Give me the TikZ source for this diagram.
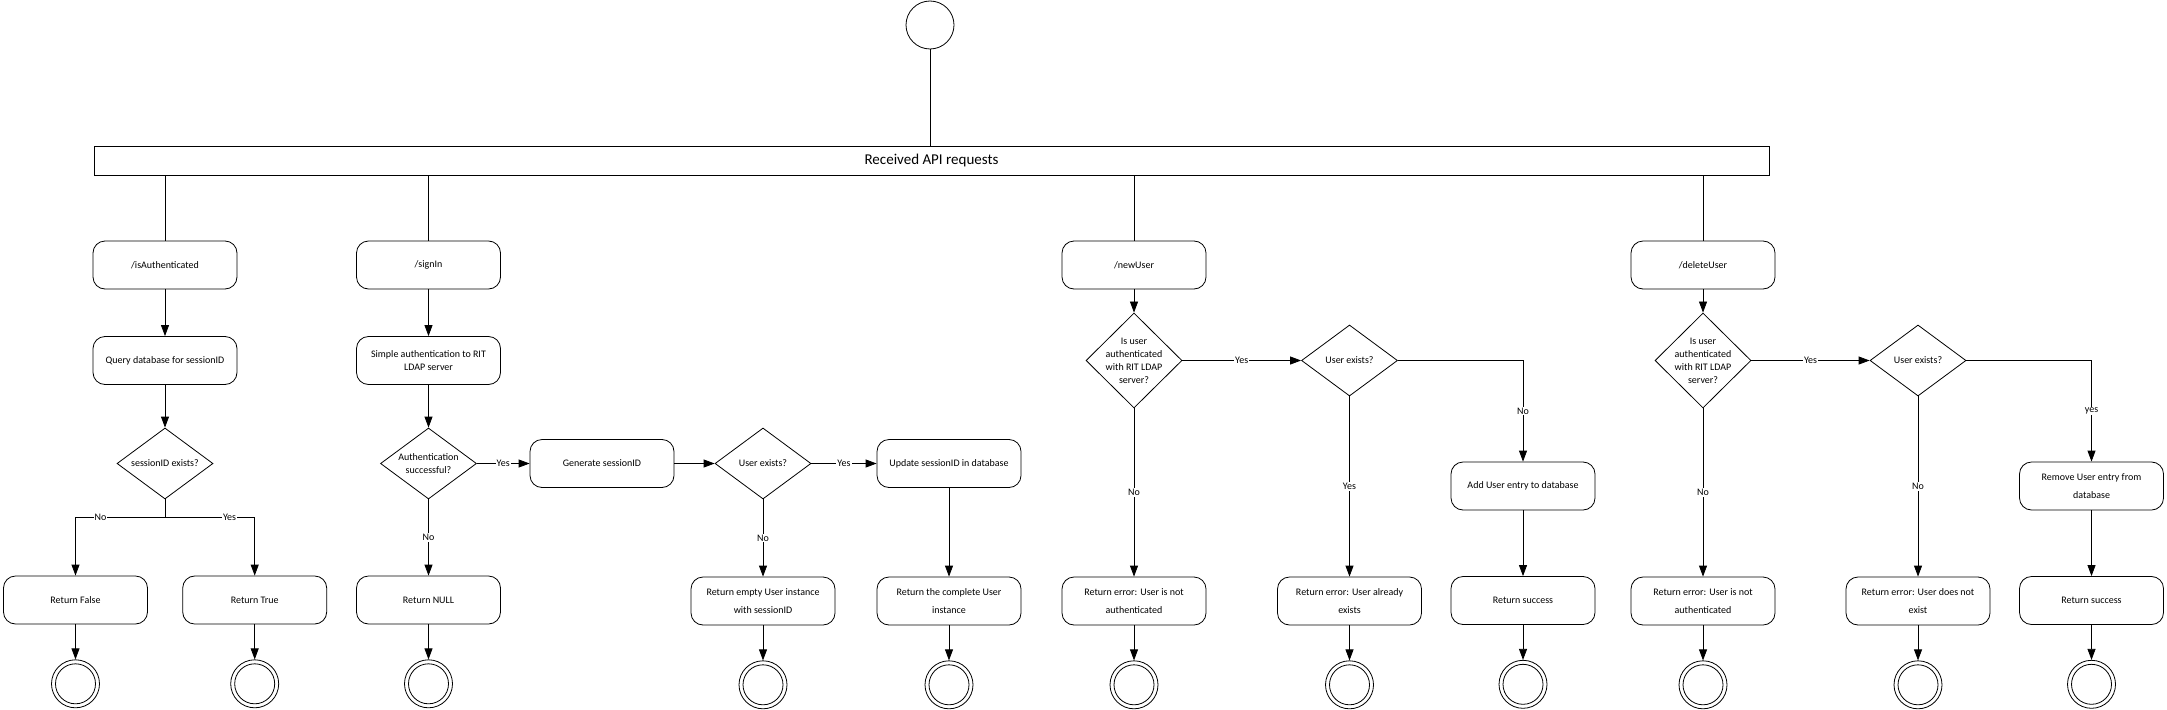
\documentclass[tikz,border=0pt]{standalone}
\usepackage{fontspec}
\setmainfont{Carlito}
\usetikzlibrary{shapes.geometric,arrows.meta,positioning}
\tikzset{
  act/.style={draw,rounded corners=12pt,minimum width=144pt,minimum height=48pt,inner sep=2pt,align=center,font=\fontsize{10}{13}\selectfont},
  ret/.style={act,font=\fontsize{10}{18}\selectfont},
  decision/.style={diamond,draw,minimum width=96pt,minimum height=71pt,inner sep=-8pt,align=center,font=\fontsize{10}{13}\selectfont},
  final/.style={circle,draw,minimum size=48pt,inner sep=0pt,path picture={\draw (path picture bounding box.center) circle (20pt);}},
  flow/.style={-{Triangle[length=11pt,width=8pt]}},
  lbl/.style={fill=white,inner sep=1pt,font=\fontsize{10}{12}\selectfont}
}

\begin{document}
\begin{tikzpicture}[x=1pt,y=-1pt,line width=0.8pt]
\useasboundingbox (0,0) rectangle (2167,709);
\node[circle,draw,minimum size=48pt,inner sep=0pt] (start) at (930,25) {};
\node[draw,minimum width=1675pt,minimum height=29pt,inner sep=0pt,font=\fontsize{15}{18}\selectfont] (recv) at (931.5,160.5) {Received API requests};
\node[act] (isauth) at (165,265) {/isAuthenticated};
\node[act] (signin) at (428.5,265) {/signIn};
\node[act] (newuser) at (1134,265) {/newUser};
\node[act] (deluser) at (1703,265) {/deleteUser};
\node[act] (query) at (165,360.5) {Query database for sessionID};
\node[act] (ldap) at (428.5,360.5) {Simple authentication to RIT\\LDAP server};
\node[decision] (dsess) at (165,463.5) {sessionID exists?};
\node[decision] (dauth) at (428.5,463.5) {Authentication\\successful?};
\node[act] (gen) at (602,463.5) {Generate sessionID};
\node[decision] (dex1) at (763,463.5) {User exists?};
\node[act] (upd) at (949,463.5) {Update sessionID in database};
\node[decision,minimum height=95pt] (dauthC) at (1134,360.5) {Is user\\authenticated\\with RIT LDAP\\server?};
\node[decision] (dex2) at (1349.5,360.5) {User exists?};
\node[act] (adduser) at (1523,486) {Add User entry to database};
\node[decision,minimum height=95pt] (dauthD) at (1703,360.5) {Is user\\authenticated\\with RIT LDAP\\server?};
\node[decision] (dex3) at (1918,360.5) {User exists?};
\node[ret] (remove) at (2091.5,486) {Remove User entry from\\database};
\node[ret] (rfalse) at (75.5,600) {Return False};
\node[ret] (rtrue) at (254.7,600) {Return True};
\node[ret] (rnull) at (428.5,600) {Return NULL};
\node[ret] (rempty) at (763,601) {Return empty User instance\\with sessionID};
\node[ret] (rcomplete) at (949,601) {Return the complete User\\instance};
\node[ret] (rerrC) at (1134,601) {Return error: User is not\\authenticated};
\node[ret] (rexists) at (1349.5,601) {Return error: User already\\exists};
\node[ret] (rsucC) at (1523,600.5) {Return success};
\node[ret] (rerrD) at (1703,601) {Return error: User is not\\authenticated};
\node[ret] (rnot) at (1918,601) {Return error: User does not\\exist};
\node[ret] (rsucD) at (2091.5,600.5) {Return success};
\coordinate (split) at (165,517);

\draw (start) -- (start |- recv.north);
\foreach \n in {isauth,signin,newuser,deluser}
  \draw (recv.south -| \n) -- (\n);
\draw[flow] (isauth) -- (query);
\draw[flow] (query) -- (dsess);
\draw (dsess) -- (split);
\draw[flow] (split) -| node[lbl,pos=0.36]{No} (rfalse);
\draw[flow] (split) -| node[lbl,pos=0.36]{Yes} (rtrue);
\draw[flow] (signin) -- (ldap);
\draw[flow] (ldap) -- (dauth);
\draw[flow] (dauth) -- node[lbl]{Yes} (gen);
\draw[flow] (dauth) -- node[lbl]{No} (rnull);
\draw[flow] (gen) -- (dex1);
\draw[flow] (dex1) -- node[lbl]{Yes} (upd);
\draw[flow] (dex1) -- node[lbl]{No} (rempty);
\draw[flow] (upd) -- (rcomplete);
\draw[flow] (newuser) -- (dauthC);
\draw[flow] (dauthC) -- node[lbl]{Yes} (dex2);
\draw[flow] (dauthC) -- node[lbl]{No} (rerrC);
\draw[flow] (dex2) -| node[lbl,pos=0.75]{No} (adduser);
\draw[flow] (dex2) -- node[lbl]{Yes} (rexists);
\draw[flow] (adduser) -- (rsucC);
\draw[flow] (deluser) -- (dauthD);
\draw[flow] (dauthD) -- node[lbl]{Yes} (dex3);
\draw[flow] (dauthD) -- node[lbl]{No} (rerrD);
\draw[flow] (dex3) -| node[lbl,pos=0.75]{yes} (remove);
\draw[flow] (dex3) -- node[lbl]{No} (rnot);
\draw[flow] (remove) -- (rsucD);
\foreach \r in {rfalse,rtrue,rnull,rempty,rcomplete,rerrC,rexists,rsucC,rerrD,rnot,rsucD} {
  \node[final,below=35pt of \r] (end-\r) {};
  \draw[flow] (\r) -- (end-\r);
}
\end{tikzpicture}
\end{document}
